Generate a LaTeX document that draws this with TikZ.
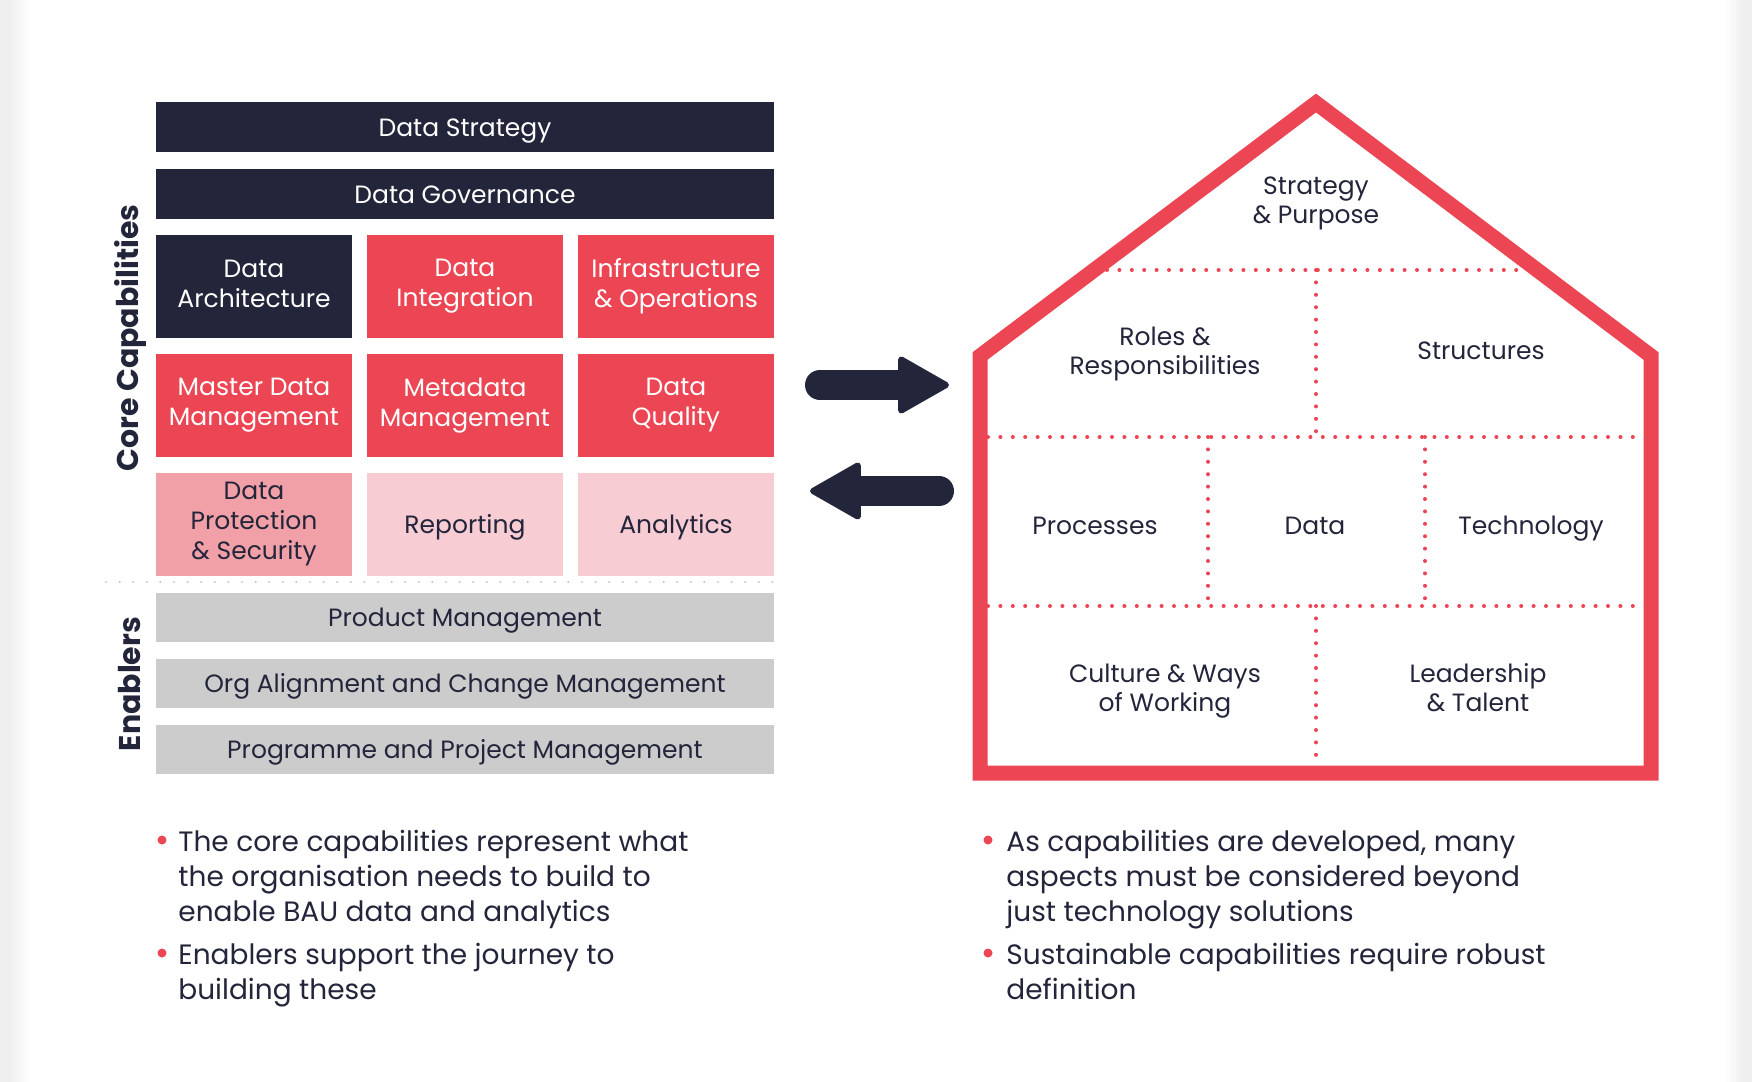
\documentclass[tikz,border=0pt]{standalone}
\usepackage{fontspec}
\setmainfont{Poppins}
\usetikzlibrary{arrows.meta,positioning}
\definecolor{navy}{HTML}{23253B}
\definecolor{hotred}{HTML}{EC4553}
\definecolor{midpink}{HTML}{F2A0A7}
\definecolor{palepink}{HTML}{F7CCD2}
\definecolor{barGray}{HTML}{CCCCCC}
\definecolor{edgeGray}{HTML}{EFEFEF}
\newcommand\boxstrut{\rule[-3.2pt]{0pt}{15.7pt}}

\begin{document}
\begin{tikzpicture}[x=0.5pt,y=-0.5pt,
    struts/.style={execute at begin node=\boxstrut, execute at end node=\boxstrut},
    cell/.style={struts, minimum width=98pt, minimum height=51.5pt, inner sep=0pt, align=center, font=\fontsize{12.5}{15}\selectfont},
    bar/.style={struts, minimum width=309pt, minimum height=24.5pt, inner sep=0pt, align=center, font=\fontsize{12.5}{15}\selectfont},
    dark/.style={fill=navy, text=white},
    hot/.style={fill=hotred, text=white},
    soft/.style={fill=midpink, text=navy},
    pale/.style={fill=palepink, text=navy},
    grey/.style={fill=barGray, text=navy},
    side/.style={rotate=90, text=navy, font=\fontsize{15}{18}\selectfont\bfseries},
    room/.style={struts, align=center, text=navy, font=\fontsize{12.5}{14.5}\selectfont},
    note/.style={align=left, anchor=north west, inner sep=0pt, text=navy, font=\fontsize{14}{17.5}\selectfont, execute at begin node=\strut},
    dot/.style={circle, fill=hotred, inner sep=0pt, minimum size=4.5pt},
    wall/.style={draw=hotred, line width=7.5pt, line join=miter},
    split/.style={draw=hotred, line width=2pt, line cap=round, dash pattern=on 0pt off 6.2pt},
    fat/.style={draw=navy, line width=15pt, line cap=round, -{Triangle[length=27pt, width=30pt, line width=3pt, round]}}
]
% canvas and faded edges
\fill[white] (0,0) rectangle (1752,1082);
\fill[edgeGray] (0,0) rectangle (10,1082);
\shade[left color=edgeGray, right color=white] (10,0) rectangle (30,1082);
\shade[left color=white, right color=edgeGray] (1724,0) rectangle (1743,1082);
\fill[edgeGray] (1743,0) rectangle (1752,1082);

% capability stack
\node[bar, dark, minimum height=25pt] (strat) at (465,127) {Data Strategy};
\node[bar, dark, minimum height=25pt] (gov) at (465,194) {Data Governance};
\node[cell, dark] (arch) at (254,286.5) {Data\\Architecture};
\node[cell, hot] (integ) at (465,286.5) {Data\\Integration};
\node[cell, hot] (infra) at (676,286.5) {Infrastructure\\\& Operations};
\node[cell, hot] (mdm) at (254,405.5) {Master Data\\Management};
\node[cell, hot] (meta) at (465,405.5) {Metadata\\Management};
\node[cell, hot] (qual) at (676,405.5) {Data\\Quality};
\node[cell, soft] (prot) at (254,524) {Data\\Protection\\\& Security};
\node[cell, pale] (rep) at (465,524) {Reporting};
\node[cell, pale] (anal) at (676,524) {Analytics};
\draw[barGray, line width=1.2pt, line cap=round, dash pattern=on 0pt off 6.8pt] (106,582) -- (774,582);
\node[bar, grey] (prod) at (465,617.5) {Product Management};
\node[bar, grey] (org) at (465,683) {Org Alignment and Change Management};
\node[bar, grey] (prog) at (465,749) {Programme and Project Management};
\node[side] (core) at (130,338) {Core Capabilities};
\node[side] (enab) at (130,684) {Enablers};

% two-way arrows
\coordinate (toS) at (820,385);
\coordinate (toE) at (949,385);
\coordinate (backS) at (939,491);
\coordinate (backE) at (810,491);
\draw[fat] (toS) -- (toE);
\draw[fat] (backS) -- (backE);

% house
\draw[wall] (980,356) -- (1316,103) -- (1651,356) -- (1651,773) -- (980,773) -- cycle;
\draw[split] (1107,270) -- (1525,270);
\draw[split] (1316,270) -- (1316,437);
\draw[split] (988,437) -- (1644,437);
\draw[split] (1208,437) -- (1208,606);
\draw[split] (1425,437) -- (1425,606);
\draw[split] (988,606) -- (1644,606);
\draw[split] (1316,606) -- (1316,766);
\node[room] (purp) at (1316,203) {Strategy\\\& Purpose};
\node[room] (roles) at (1165,354) {Roles \&\\Responsibilities};
\node[room] (struc) at (1481,350) {Structures};
\node[room] (proc) at (1095,525) {Processes};
\node[room] (data) at (1315,525) {Data};
\node[room] (tech) at (1531,525) {Technology};
\node[room] (cult) at (1165,691) {Culture \& Ways\\of Working};
\node[room] (lead) at (1478,691) {Leadership\\\& Talent};

% bullet notes
\node[dot] (d1) at (162,840) {};
\node[note] (n1) at (178,830) {The core capabilities represent what\\the organisation needs to build to\\enable BAU data and analytics};
\node[dot] (d2) at (162,953) {};
\node[note] (n2) at (178,943) {Enablers support the journey to\\building these};
\node[dot] (d3) at (988,840) {};
\node[note] (n3) at (1006,830) {As capabilities are developed, many\\aspects must be considered beyond\\just technology solutions};
\node[dot] (d4) at (988,953) {};
\node[note] (n4) at (1006,943) {Sustainable capabilities require robust\\definition};
\end{tikzpicture}
\end{document}
